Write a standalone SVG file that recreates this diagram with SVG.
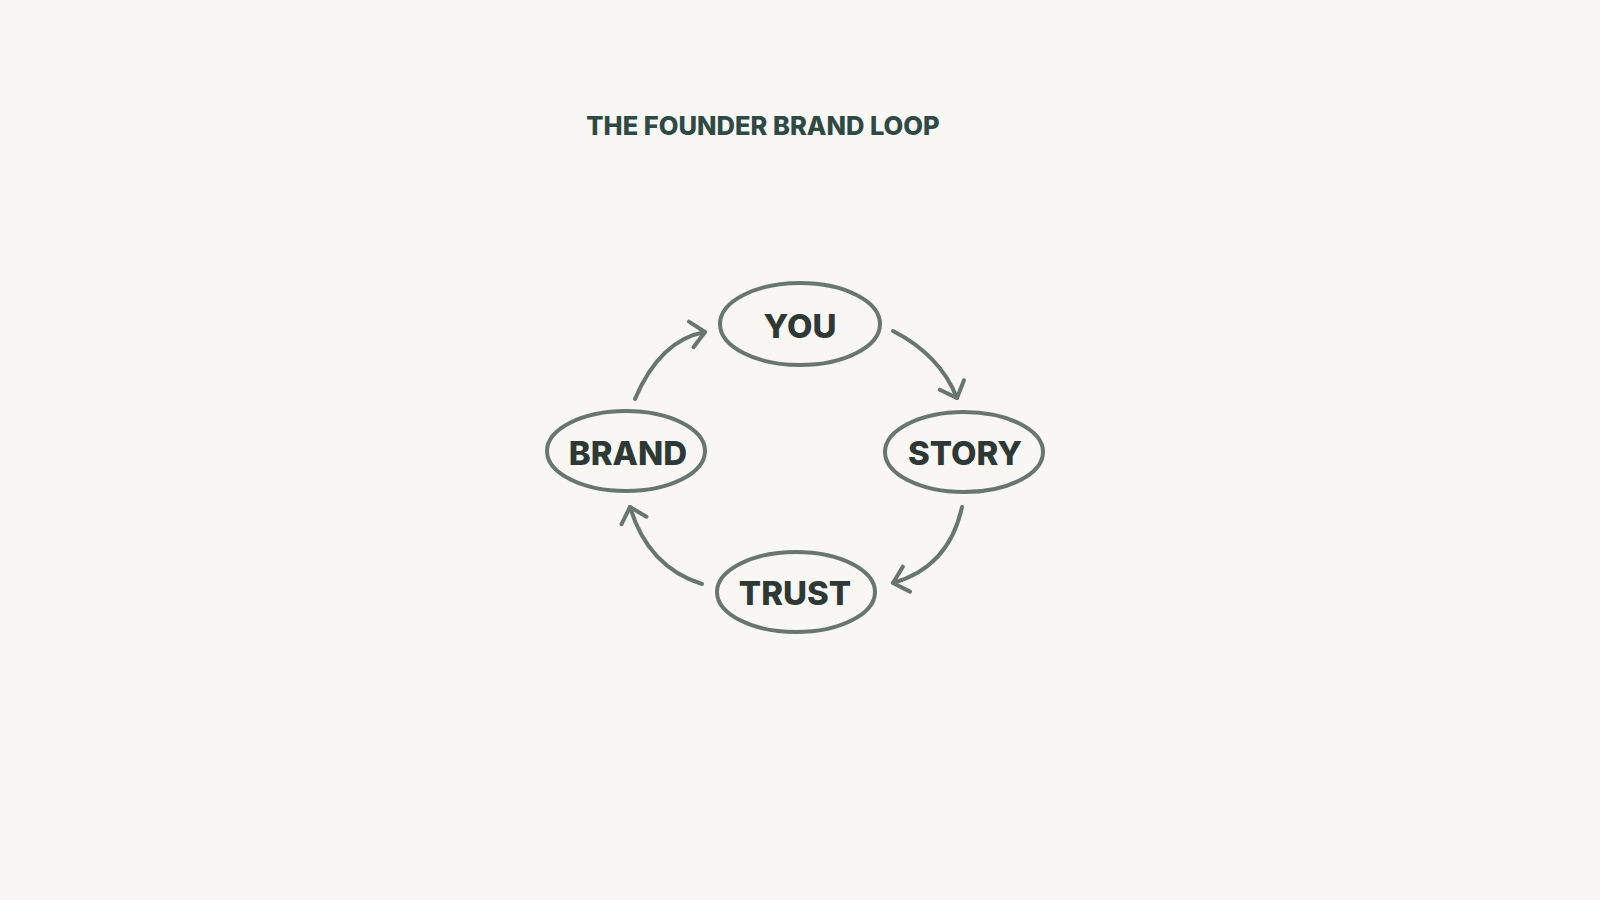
<svg xmlns="http://www.w3.org/2000/svg" width="1600" height="900" viewBox="0 0 1600 900">
<defs>
<style>
.node ellipse{fill:#f8f7f4;stroke:#69756f;stroke-width:4}
.node text{font-family:"Inter","Liberation Sans",sans-serif;font-weight:800;font-size:33px;fill:#2e3834;text-anchor:middle}
.conn path{fill:none;stroke:#69756f;stroke-width:4;stroke-linecap:round}
.title{font-family:"Inter","Liberation Sans",sans-serif;font-weight:800;font-size:25.5px;fill:#2f4a44;text-anchor:middle}
</style>
<marker id="arr" markerUnits="userSpaceOnUse" markerWidth="40" markerHeight="40" viewBox="-20 -20 40 40" refX="0" refY="0" orient="auto" overflow="visible">
<path d="M-14,-13 L0,0 L-14,13" fill="none" stroke="#69756f" stroke-width="4" stroke-linecap="round" stroke-linejoin="round"/>
</marker>
</defs>
<rect width="1600" height="900" fill="#f8f7f4"/>
<text class="title" x="763" y="135">THE FOUNDER BRAND LOOP</text>
<g class="conn">
<path d="M635,399 Q660,340 705,332" marker-end="url(#arr)"/>
<path d="M893,331 Q940,355 957,398" marker-end="url(#arr)"/>
<path d="M962,507 Q949,567 893,583" marker-end="url(#arr)"/>
<path d="M702,584 Q648,567 630,507" marker-end="url(#arr)"/>
</g>
<g id="you" class="node"><ellipse cx="800" cy="324" rx="80" ry="41"/><text x="800" y="338">YOU</text></g>
<g id="story" class="node"><ellipse cx="964" cy="452" rx="79" ry="40"/><text x="965" y="465">STORY</text></g>
<g id="trust" class="node"><ellipse cx="796" cy="592" rx="79" ry="40"/><text x="795" y="605">TRUST</text></g>
<g id="brand" class="node"><ellipse cx="626" cy="451" rx="79" ry="40"/><text x="628" y="465">BRAND</text></g>
</svg>
